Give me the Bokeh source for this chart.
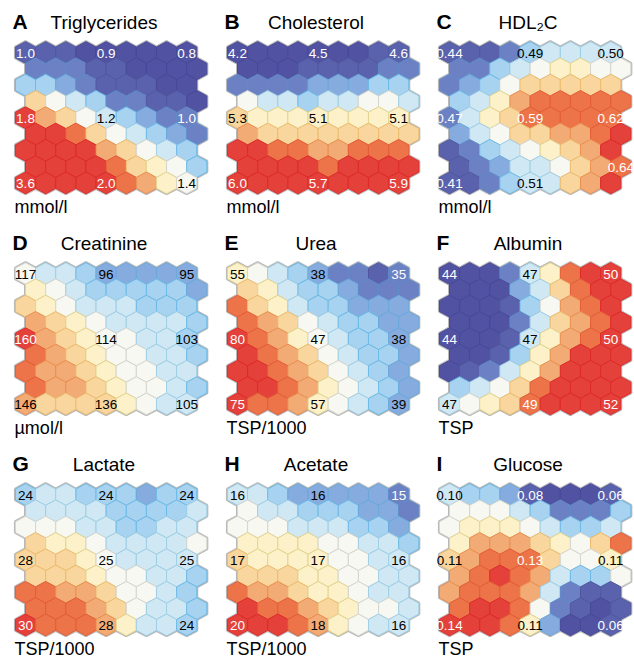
from bokeh.plotting import figure
from bokeh.models import Range1d, ColumnDataSource
from bokeh.transform import linear_cmap
from bokeh.core.properties import value
from bokeh.embed import file_html
from bokeh.resources import INLINE

# ---------------- data ----------------
panel_letters = ["A", "B", "C", "D", "E", "F", "G", "H", "I"]
panel_titles = ["Triglycerides", "Cholesterol", "HDL\u2082C", "Creatinine", "Urea",
                "Albumin", "Lactate", "Acetate", "Glucose"]
panel_units = ["mmol/l", "mmol/l", "mmol/l", "\u00b5mol/l", "TSP/1000", "TSP",
               "TSP/1000", "TSP/1000", "TSP"]

# colour level of each SOM node (0 = lowest / dark blue ... 11 = highest / red), 9 rows x 9 cols
triglycerides_shade = [
    [1, 1, 1, 0, 0, 0, 0, 0, 0],
    [2, 2, 2, 1, 1, 0, 0, 0, 0],
    [4, 4, 3, 2, 1, 1, 1, 0, 0],
    [8, 6, 5, 4, 2, 2, 1, 1, 0],
    [11, 9, 8, 6, 5, 4, 3, 2, 2],
    [11, 11, 10, 8, 6, 5, 4, 3, 2],
    [11, 11, 11, 11, 9, 8, 6, 5, 4],
    [11, 11, 11, 11, 10, 8, 7, 6, 4],
    [11, 11, 11, 11, 11, 10, 9, 7, 6],
]
cholesterol_shade = [
    [0, 0, 0, 0, 0, 0, 0, 1, 1],
    [0, 0, 0, 1, 1, 1, 1, 2, 2],
    [2, 2, 2, 2, 3, 3, 3, 4, 4],
    [6, 5, 5, 4, 5, 5, 6, 6, 5],
    [8, 7, 7, 7, 7, 7, 7, 7, 7],
    [9, 8, 8, 8, 8, 8, 8, 8, 8],
    [11, 11, 10, 10, 9, 9, 10, 10, 10],
    [11, 11, 11, 11, 10, 11, 11, 11, 11],
    [11, 11, 11, 11, 11, 11, 11, 11, 11],
]
hdl2c_shade = [
    [1, 1, 1, 2, 4, 5, 5, 5, 5],
    [2, 2, 4, 5, 6, 7, 7, 6, 6],
    [2, 3, 4, 6, 8, 8, 8, 8, 8],
    [4, 5, 7, 9, 10, 10, 10, 10, 10],
    [2, 5, 7, 8, 10, 10, 10, 10, 10],
    [3, 5, 6, 8, 8, 9, 9, 10, 11],
    [1, 2, 4, 5, 6, 7, 8, 9, 11],
    [1, 2, 3, 5, 5, 6, 8, 9, 10],
    [1, 1, 2, 4, 5, 5, 8, 9, 11],
]
creatinine_shade = [
    [6, 5, 5, 4, 3, 3, 3, 3, 3],
    [7, 6, 5, 4, 4, 4, 4, 4, 3],
    [8, 7, 6, 5, 5, 5, 4, 4, 4],
    [9, 8, 7, 6, 5, 5, 5, 5, 4],
    [11, 9, 8, 7, 6, 6, 5, 5, 4],
    [10, 9, 8, 7, 6, 6, 5, 5, 4],
    [10, 9, 9, 8, 7, 6, 6, 5, 5],
    [10, 9, 9, 8, 7, 6, 6, 5, 4],
    [9, 8, 8, 8, 8, 7, 6, 5, 5],
]
urea_shade = [
    [7, 6, 5, 4, 3, 2, 2, 1, 2],
    [8, 7, 5, 4, 4, 3, 2, 2, 2],
    [10, 8, 7, 5, 4, 4, 3, 3, 3],
    [10, 9, 8, 6, 5, 4, 4, 3, 3],
    [11, 10, 9, 7, 6, 5, 4, 4, 3],
    [11, 10, 9, 8, 6, 5, 4, 4, 3],
    [11, 11, 10, 9, 8, 6, 5, 4, 3],
    [11, 11, 10, 9, 7, 6, 5, 4, 3],
    [11, 10, 10, 9, 7, 6, 5, 4, 3],
]
albumin_shade = [
    [0, 0, 0, 2, 5, 7, 10, 11, 11],
    [0, 0, 0, 3, 5, 8, 10, 11, 11],
    [0, 0, 0, 1, 4, 6, 9, 10, 11],
    [0, 0, 0, 2, 5, 8, 9, 10, 11],
    [0, 0, 0, 1, 5, 7, 9, 10, 11],
    [0, 0, 1, 4, 7, 9, 11, 11, 11],
    [0, 1, 2, 5, 7, 9, 11, 11, 11],
    [4, 5, 6, 8, 10, 11, 11, 11, 11],
    [5, 6, 7, 8, 10, 11, 11, 11, 11],
]
lactate_shade = [
    [4, 5, 5, 4, 4, 4, 3, 4, 4],
    [5, 5, 5, 5, 4, 4, 4, 4, 5],
    [6, 6, 6, 5, 5, 4, 4, 5, 5],
    [8, 7, 7, 6, 5, 5, 5, 5, 6],
    [8, 8, 8, 7, 6, 5, 5, 5, 5],
    [8, 8, 8, 7, 6, 6, 5, 5, 4],
    [10, 10, 9, 9, 8, 6, 6, 5, 4],
    [10, 10, 10, 9, 8, 6, 5, 5, 4],
    [11, 10, 10, 10, 9, 7, 5, 5, 4],
]
acetate_shade = [
    [5, 5, 4, 3, 3, 3, 3, 3, 2],
    [6, 5, 5, 4, 4, 4, 3, 3, 2],
    [6, 6, 6, 5, 5, 5, 4, 4, 3],
    [7, 7, 7, 7, 6, 6, 5, 5, 4],
    [8, 7, 7, 7, 7, 6, 6, 5, 5],
    [8, 8, 8, 7, 7, 6, 6, 5, 5],
    [10, 9, 9, 8, 7, 7, 6, 5, 5],
    [11, 10, 10, 9, 8, 7, 6, 6, 5],
    [11, 11, 11, 10, 9, 7, 6, 5, 5],
]
glucose_shade = [
    [5, 4, 4, 3, 1, 0, 0, 0, 1],
    [6, 6, 6, 5, 4, 2, 2, 2, 4],
    [6, 7, 7, 7, 6, 5, 4, 4, 5],
    [7, 9, 9, 9, 8, 7, 6, 8, 10],
    [8, 9, 10, 10, 10, 8, 6, 6, 7],
    [9, 10, 11, 10, 9, 5, 4, 4, 6],
    [9, 10, 10, 10, 9, 5, 2, 1, 1],
    [10, 11, 11, 10, 6, 2, 1, 0, 1],
    [11, 11, 11, 10, 7, 3, 0, 0, 1],
]

triglycerides_labels = ["1.0", "0.9", "0.8", "1.8", "1.2", "1.0", "3.6", "2.0", "1.4"]
cholesterol_labels = ["4.2", "4.5", "4.6", "5.3", "5.1", "5.1", "6.0", "5.7", "5.9"]
hdl2c_labels = ["0.44", "0.49", "0.50", "0.47", "0.59", "0.62", "0.41", "0.51", "0.64"]
creatinine_labels = ["117", "96", "95", "160", "114", "103", "146", "136", "105"]
urea_labels = ["55", "38", "35", "80", "47", "38", "75", "57", "39"]
albumin_labels = ["44", "47", "50", "44", "47", "50", "47", "49", "52"]
lactate_labels = ["24", "24", "24", "28", "25", "25", "30", "28", "24"]
acetate_labels = ["16", "16", "15", "17", "17", "16", "20", "18", "16"]
glucose_labels = ["0.10", "0.08", "0.06", "0.11", "0.13", "0.11", "0.14", "0.11", "0.06"]

# SOM node (row, col) carrying each label
label_rows = [0, 0, 0, 4, 4, 4, 8, 8, 8]
label_cols = [0, 4, 8, 0, 4, 8, 0, 4, 8]
hdl2c_label_rows = [0, 0, 0, 4, 4, 4, 8, 8, 7]

shades = [triglycerides_shade, cholesterol_shade, hdl2c_shade, creatinine_shade, urea_shade,
          albumin_shade, lactate_shade, acetate_shade, glucose_shade]
labels = [triglycerides_labels, cholesterol_labels, hdl2c_labels, creatinine_labels, urea_labels,
          albumin_labels, lactate_labels, acetate_labels, glucose_labels]
lab_rows = [label_rows, label_rows, hdl2c_label_rows] + [label_rows] * 6

# ---------------- style / layout ----------------
FILL = ["#5152a1", "#5a62ad", "#6b81c4", "#86acdf", "#a7d3f1", "#d0e8f4",
        "#f8f8f3", "#fdf1c9", "#f9d69e", "#f3ab76", "#ec7448", "#e3413a"]
EDGE = ["#48489a", "#50589f", "#5f8ac9", "#6aa8dc", "#6cbbe7", "#9fcfe6",
        "#d6d6cf", "#e3d590", "#ecbd70", "#ea9050", "#e45d38", "#df2a2a"]
FONT = "Liberation Sans"
X0, Y0 = 25.0, 52.0          # first node centre of panel A
PDX, PDY = 212.0, 221.0      # panel offsets
CW, RH = 20.15, 16.3         # node spacing (horizontal, row)
T, S = RH * 2 / 3, RH / 3

xs, ys, lv = [], [], []
tx, ty, tt, tc = [], [], [], []
for k in range(9):
    ox = X0 + (k % 3) * PDX
    oy = Y0 + (k // 3) * PDY
    grid = shades[k]
    for r in range(9):
        for c in range(9):
            cx = ox + c * CW + (CW / 2 if r % 2 else 0)
            cy = oy + r * RH
            xs.append([cx, cx + CW / 2, cx + CW / 2, cx, cx - CW / 2, cx - CW / 2])
            ys.append([cy - T, cy - S, cy + S, cy + T, cy + S, cy - S])
            lv.append(grid[r][c])
    for i, lab in enumerate(labels[k]):
        r, c = lab_rows[k][i], label_cols[i]
        tx.append(ox + c * CW + (CW / 2 if r % 2 else 0))
        ty.append(oy + r * RH + 0.5)
        tt.append(lab)
        l = grid[r][c]
        tc.append("white" if (l <= 2 or l >= 10) else "black")

src = ColumnDataSource(dict(xs=xs, ys=ys, level=lv))
lab_src = ColumnDataSource(dict(x=tx, y=ty, text=tt, color=tc))

p = figure(width=634, height=659, output_backend="svg", toolbar_location=None,
           x_range=Range1d(0, 634), y_range=Range1d(659, 0), min_border=0)
p.axis.visible = False
p.grid.visible = False
p.outline_line_color = None
p.background_fill_color = "white"

p.patches("xs", "ys", source=src, fill_color="#b9b9b9", line_color="#b9b9b9", line_width=3)
p.patches("xs", "ys", source=src,
          fill_color=linear_cmap("level", FILL, low=-0.5, high=11.5),
          line_color=linear_cmap("level", EDGE, low=-0.5, high=11.5), line_width=1)

p.text("x", "y", text="text", text_color="color", source=lab_src, text_font=value(FONT),
       text_font_size="13.5px", text_align="center", text_baseline="middle")

px = [X0 + (k % 3) * PDX for k in range(9)]
py = [Y0 + (k // 3) * PDY for k in range(9)]
p.text([x - 13 for x in px], [y - 31 for y in py], text=panel_letters, text_font=value(FONT),
       text_font_size="21px", text_font_style="bold", text_color="black",
       text_align="left", text_baseline="middle")
p.text([x + 78.5 for x in px], [y - 30.5 for y in py], text=panel_titles, text_font=value(FONT),
       text_font_size="19px", text_color="black", text_align="center", text_baseline="middle")
p.text([x - 11 for x in px], [y + 8 * RH + 24.5 for y in py], text=panel_units, text_font=value(FONT),
       text_font_size="18px", text_color="black", text_align="left", text_baseline="middle")

open("out.html", "w").write(file_html(p, INLINE))
